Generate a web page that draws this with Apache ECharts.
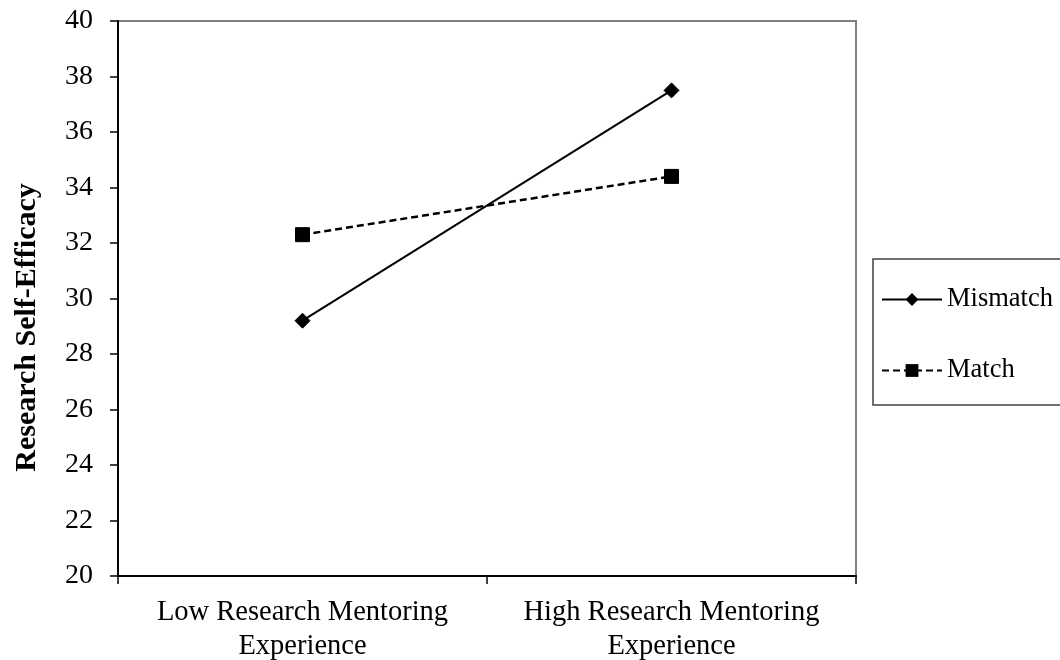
<!DOCTYPE html>
<html>
<head>
<meta charset="utf-8">
<script src="https://cdn.jsdelivr.net/npm/echarts@6/dist/echarts.min.js"></script>
<style>html,body{margin:0;padding:0;background:#fff}#c{width:1060px;height:660px}</style>
</head>
<body>
<div id="c"></div>
<script>
const categories = ['Low Research Mentoring\nExperience', 'High Research Mentoring\nExperience'];
const mismatchValues = [29.2, 37.5];
const matchValues = [32.3, 34.4];
const yTicks = { min: 20, max: 40, interval: 2 };
const yTitle = 'Research Self-Efficacy';

const FONT = '"Liberation Serif", "Times New Roman", serif';
const chart = echarts.init(document.getElementById('c'), null, { renderer: 'canvas' });
chart.setOption({
  backgroundColor: '#fff',
  animation: false,
  grid: { left: 118, top: 21, width: 738, height: 555, containLabel: false, outerBoundsMode: 'none', show: true, borderColor: '#808080', borderWidth: 2, backgroundColor: 'transparent' },
  legend: {
    orient: 'vertical', left: 873, top: 259,
    padding: [27, 60, 21, 8],
    itemGap: 44, itemWidth: 60, itemHeight: 16,
    borderColor: '#404040', borderWidth: 1.5,
    textStyle: { fontFamily: FONT, fontSize: 26.5, color: '#000' },
    data: ['Mismatch', 'Match']
  },
  xAxis: {
    type: 'category', data: categories, boundaryGap: true,
    axisLine: { lineStyle: { color: '#000', width: 2 } },
    axisTick: { show: true, length: 8, inside: false, interval: 0, lineStyle: { color: '#000', width: 1.5 } },
    axisLabel: { fontFamily: FONT, fontSize: 28.5, color: '#000', margin: 20, lineHeight: 34, interval: 0, hideOverlap: false },
    splitLine: { show: false }
  },
  yAxis: {
    type: 'value', min: yTicks.min, max: yTicks.max, interval: yTicks.interval,
    name: yTitle, nameLocation: 'middle', nameGap: 76, nameRotate: 90,
    nameTextStyle: { fontFamily: FONT, fontSize: 30, fontWeight: 'bold', color: '#000', padding: [0, 58, 0, 0] },
    axisLine: { show: true, lineStyle: { color: '#000', width: 2 } },
    axisTick: { show: true, length: 8, inside: false, lineStyle: { color: '#000', width: 1.5 } },
    axisLabel: { fontFamily: FONT, fontSize: 28, color: '#000', margin: 25 },
    splitLine: { show: false }
  },
  series: [
    {
      name: 'Mismatch', type: 'line', data: mismatchValues,
      symbol: 'diamond', symbolSize: 15, showSymbol: true,
      lineStyle: { color: '#000', width: 2, type: 'solid' },
      itemStyle: { color: '#000', borderColor: '#000' }
    },
    {
      name: 'Match', type: 'line', data: matchValues,
      symbol: 'rect', symbolSize: 14, showSymbol: true,
      lineStyle: { color: '#000', width: 2.5, type: [7, 4] },
      itemStyle: { color: '#000', borderColor: '#000' }
    }
  ]
});
</script>
</body>
</html>
